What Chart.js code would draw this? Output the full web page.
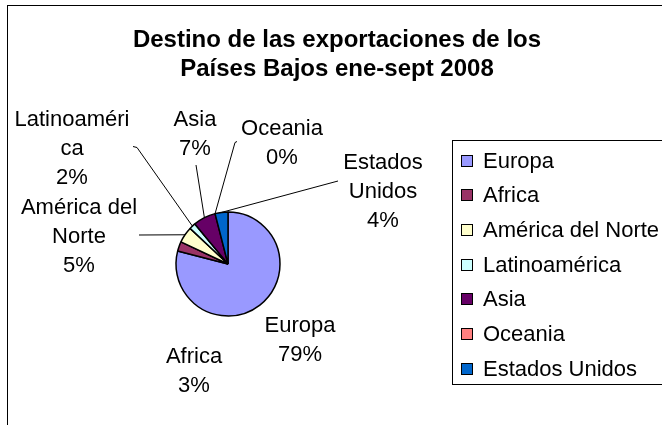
<!DOCTYPE html>
<html>
<head>
<meta charset="utf-8">
<script src="https://cdn.jsdelivr.net/npm/chart.js@4/dist/chart.umd.min.js"></script>
<style>
  html, body { margin: 0; padding: 0; background: #fff; }
</style>
</head>
<body>
<canvas id="chartExport" width="662" height="425"></canvas>
<script>
// datos
const regiones = ['Europa', 'Africa', 'América del Norte', 'Latinoamérica', 'Asia', 'Oceania', 'Estados Unidos'];
const porcentajes = [79, 3, 5, 2, 7, 0, 4];
const colores = ['#9999FF', '#993366', '#FFFFCC', '#CCFFFF', '#660066', '#FF8080', '#0066CC'];
const titulo = ['Destino de las exportaciones de los', 'Países Bajos ene-sept 2008'];

// como se parten los nombres en las etiquetas del pastel
const nombresEtiqueta = [['Europa'], ['Africa'], ['América del', 'Norte'], ['Latinoaméri', 'ca'], ['Asia'], ['Oceania'], ['Estados', 'Unidos']];

// posicion de cada etiqueta (centro x, y de la primera linea) y puntos de la linea guia
const posEtiqueta = [
  { x: 300, y: 326, guia: null },
  { x: 194, y: 357, guia: null },
  { x: 79, y: 208, guia: [[139, 235]] },
  { x: 72, y: 120, guia: [[133, 146.5], [137, 147.5]] },
  { x: 195, y: 120, guia: [[196, 165]] },
  { x: 282, y: 129, guia: [[237, 141.5], [235, 142.5]] },
  { x: 383, y: 163, guia: [[338, 181]] }
];

const FUENTE = '"Liberation Sans", Arial, sans-serif';
const INTERLINEA = 29;

const dibujoExtra = {
  id: 'dibujoExtra',
  afterDraw(chart) {
    const ctx = chart.ctx;
    const meta = chart.getDatasetMeta(0);
    ctx.save();

    // marco del grafico
    ctx.strokeStyle = '#000';
    ctx.lineWidth = 1;
    ctx.strokeRect(7.5, 5.5, 720, 500);

    // titulo
    ctx.fillStyle = '#000';
    ctx.textAlign = 'center';
    ctx.textBaseline = 'middle';
    ctx.font = 'bold 24px ' + FUENTE;
    titulo.forEach((t, i) => ctx.fillText(t, 337, 40 + i * 29));

    // lineas guia
    ctx.lineWidth = 1;
    meta.data.forEach((arc, i) => {
      const p = posEtiqueta[i];
      if (!p.guia) return;
      const mid = (arc.startAngle + arc.endAngle) / 2;
      const ex = arc.x + Math.cos(mid) * arc.outerRadius;
      const ey = arc.y + Math.sin(mid) * arc.outerRadius;
      ctx.beginPath();
      ctx.moveTo(ex, ey);
      p.guia.slice().reverse().forEach(pt => ctx.lineTo(pt[0], pt[1]));
      ctx.stroke();
    });

    // etiquetas de datos
    ctx.font = '22px ' + FUENTE;
    porcentajes.forEach((v, i) => {
      const lineas = nombresEtiqueta[i].concat([v + '%']);
      const p = posEtiqueta[i];
      lineas.forEach((l, j) => ctx.fillText(l, p.x, p.y + j * INTERLINEA));
    });

    // leyenda
    ctx.strokeRect(452.5, 140.5, 300, 244);
    ctx.textAlign = 'left';
    regiones.forEach((r, i) => {
      const y = Math.round(160.5 + i * 34.7);
      ctx.fillStyle = colores[i];
      ctx.fillRect(461, y - 6, 12, 12);
      ctx.strokeRect(461.5, y - 5.5, 11, 11);
      ctx.fillStyle = '#000';
      ctx.fillText(r, 483, y + 1);
    });

    ctx.restore();
  }
};

new Chart(document.getElementById('chartExport'), {
  type: 'pie',
  data: {
    labels: regiones,
    datasets: [{
      data: porcentajes,
      backgroundColor: colores,
      borderColor: '#000',
      borderWidth: 1.5
    }]
  },
  options: {
    responsive: false,
    animation: false,
    radius: 52,
    layout: { padding: { left: 160, right: 366, top: 196, bottom: 93 } },
    plugins: {
      legend: { display: false },
      title: { display: false },
      tooltip: { enabled: false }
    }
  },
  plugins: [dibujoExtra]
});
</script>
</body>
</html>
